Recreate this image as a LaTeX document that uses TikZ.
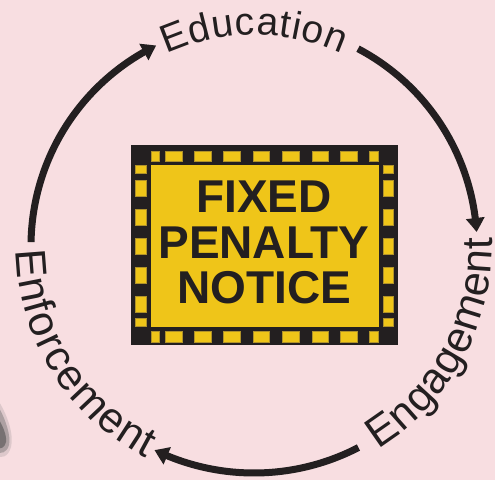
\documentclass[tikz,border=0pt]{standalone}
\usepackage{fontspec}
\setmainfont{Liberation Sans}
\usetikzlibrary{arrows.meta,bending,decorations.text,calc}
\definecolor{bg}{HTML}{F8DEE1}
\definecolor{ink}{HTML}{231F20}
\definecolor{sign}{HTML}{EFC519}
\definecolor{signedge}{HTML}{B0922A}
\newcommand\edufont{\fontsize{39}{46}\selectfont\color{ink}}
\newcommand\sidefont{\fontsize{43}{50}\selectfont\color{ink}}
\begin{document}
\begin{tikzpicture}[x=1pt,y=1pt,
  cyclearrow/.style={draw=ink, line width=7pt, -{Triangle[length=14pt,width=18pt,bend]}},
  hole/.style={fill=sign, draw=signedge, line width=0.5pt},
  arclabel/.style={decorate, decoration={text along path, text align={fit to path}, text={#1}}}]
\useasboundingbox (0,0) rectangle (495,480);
\clip (0,0) rectangle (495,480);
\fill[bg] (0,0) rectangle (495,480);

% blurred grey blob at left edge
\fill[black!55, opacity=0.2] (-2,80) .. controls (8,64) and (14,45) .. (11,33) .. controls (8,22) and (0,22) .. (-2,24) -- cycle;
\fill[black!60, opacity=0.4] (-2,74) .. controls (6,60) and (11,44) .. (9,35) .. controls (7,27) and (0,26) .. (-2,28) -- cycle;
\fill[black!70, opacity=0.55] (-2,62) .. controls (3,54) and (7,44) .. (6,38) .. controls (5,32) and (0,31) .. (-2,32) -- cycle;

\coordinate (c) at (254,234);

% cycle arrows
\coordinate (a1s) at ($(c)+(179:223)$);
\coordinate (a2s) at ($(c)+(62.2:223)$);
\coordinate (a3s) at ($(c)+(-62.6:227)$);
\draw[cyclearrow] (a1s) arc[start angle=179, end angle=116, radius=223];
\draw[cyclearrow] (a2s) arc[start angle=62.2, end angle=3.6, radius=223];
\draw[cyclearrow] (a3s) arc[start angle=-62.6, end angle=-116, radius=227];

% curved labels
\path[arclabel={|\edufont|Education}] ($(c)+(114.5:211)$) arc[start angle=114.5, end angle=65.5, radius=211];
\path[arclabel={|\sidefont|Engagement}] ($(c)+(-58.5:238)$) arc[start angle=-58.5, end angle=2, radius=238];
\path[arclabel={|\sidefont|Enforcement}] ($(c)+(181:238)$) arc[start angle=181, end angle=243, radius=238];

% sign
\fill[ink] (131,135) rectangle (398,335);
\fill[sign] (151,153) rectangle (379,315);
\foreach \a/\b in {151/159,165/182,194/211,223/240,253/269,282/299,312/328,340/357,369/378}{
  \filldraw[hole] (\a,319) rectangle (\b,329);
  \filldraw[hole] (\a,138) rectangle (\b,149);
}
\foreach \a/\b in {307/315,284/300,255/271,226/242,197/213,168/184,154/162}{
  \filldraw[hole] (135,\a) rectangle (146,\b);
  \filldraw[hole] (383,\a) rectangle (393,\b);
}
\node[font=\fontsize{46}{45.5}\selectfont\bfseries, text=ink, align=center, inner sep=0pt] (fpn) at (264,237.5) {FIXED\\PENALTY\\NOTICE};
\end{tikzpicture}
\end{document}
